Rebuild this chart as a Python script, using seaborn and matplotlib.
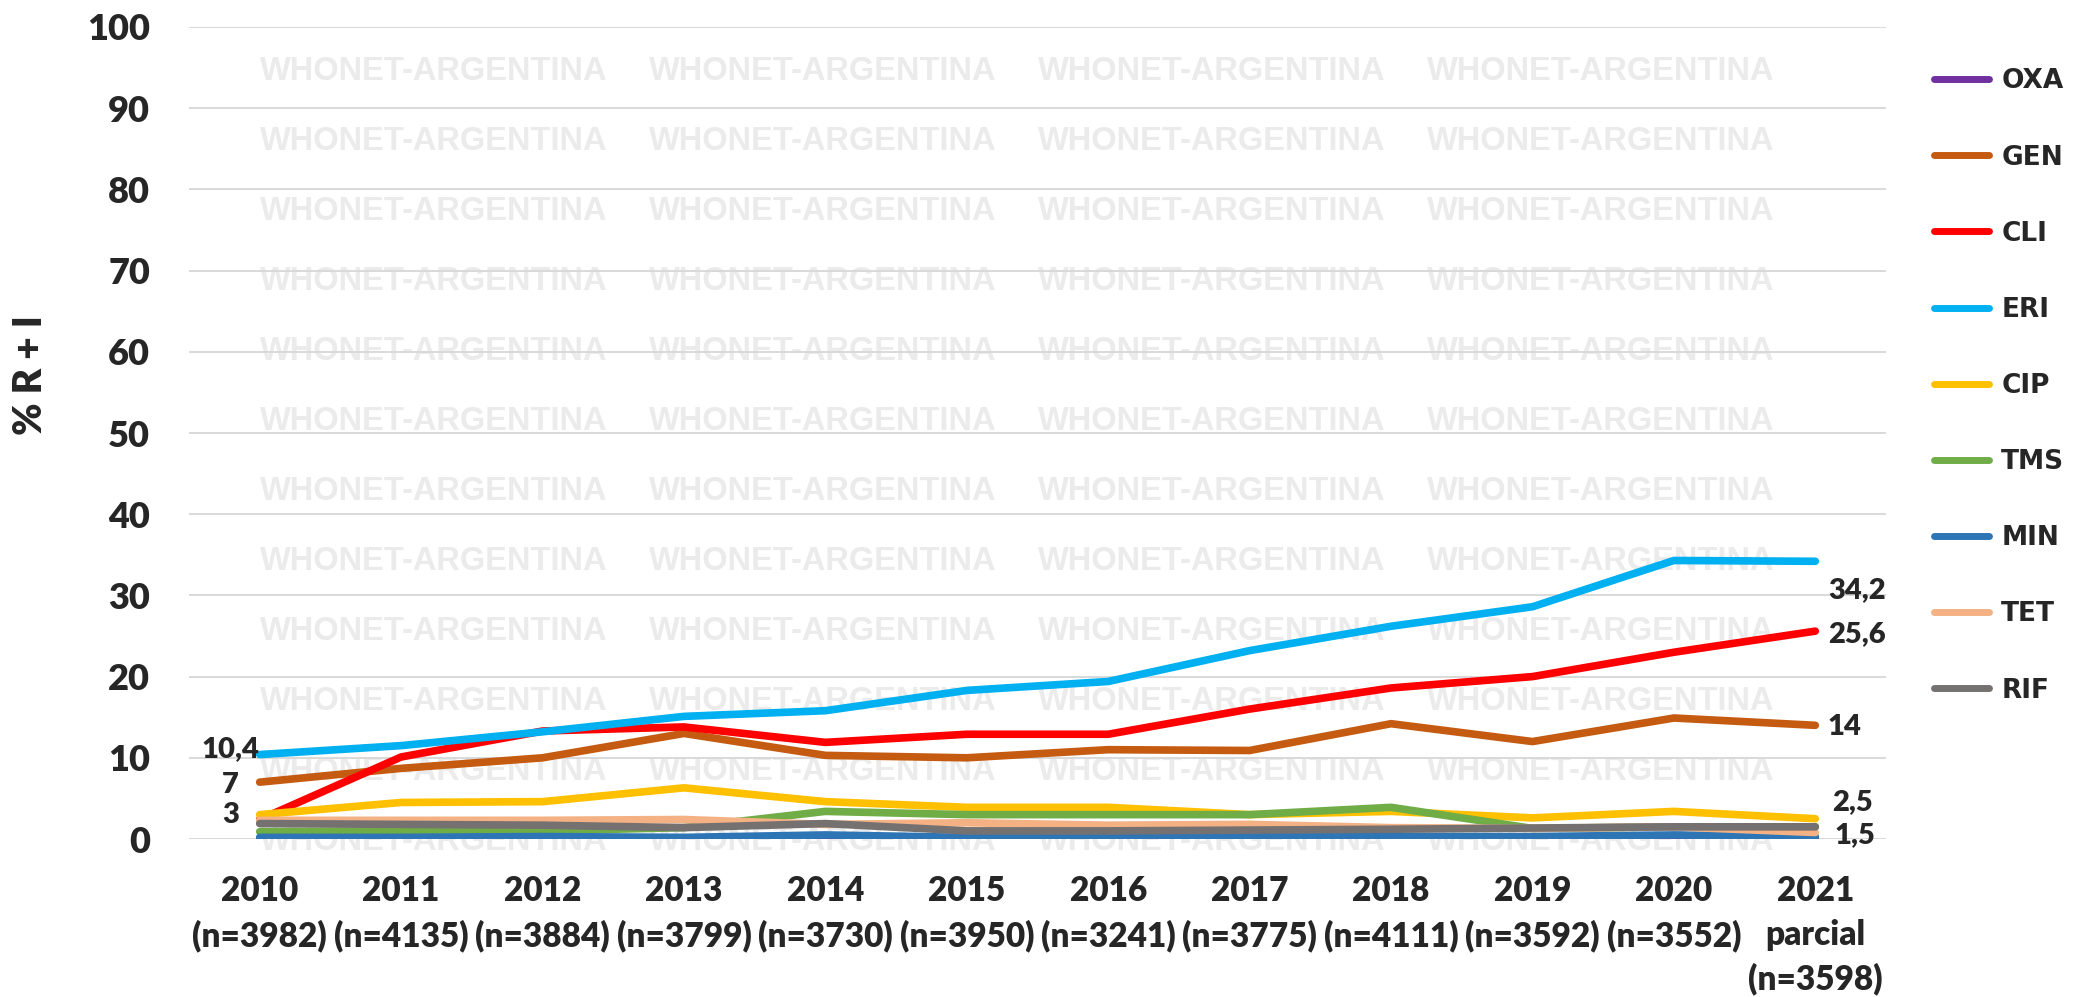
import numpy as np
import pandas as pd
import matplotlib
matplotlib.use("Agg")
import matplotlib.pyplot as plt
from matplotlib.lines import Line2D
import seaborn as sns

# ── Data ──────────────────────────────────────────────────────────────────────
tick_labels = ["2010\n(n=3982)", "2011\n(n=4135)", "2012\n(n=3884)",
               "2013\n(n=3799)", "2014\n(n=3730)", "2015\n(n=3950)",
               "2016\n(n=3241)", "2017\n(n=3775)", "2018\n(n=4111)",
               "2019\n(n=3592)", "2020\n(n=3552)", "2021\nparcial\n(n=3598)"]

antibiotics = ["OXA", "GEN", "CLI", "ERI", "CIP", "TMS", "MIN", "TET", "RIF"]

oxa = [0.0, 0.0, 0.0, 0.1, 0.1, 0.0, 0.0, 0.0, 0.0, 0.0, 0.0, 0.0]
gen = [7.0, 8.7, 10.0, 13.0, 10.3, 10.0, 11.0, 10.9, 14.2, 12.0, 14.9, 14.0]
cli = [2.4, 10.1, 13.3, 13.8, 11.9, 12.9, 12.9, 16.0, 18.6, 20.0, 23.0, 25.6]
eri = [10.4, 11.5, 13.2, 15.1, 15.8, 18.3, 19.4, 23.2, 26.2, 28.6, 34.3, 34.2]
cip = [3.0, 4.5, 4.6, 6.3, 4.6, 3.9, 3.9, 3.0, 3.4, 2.6, 3.4, 2.5]
tms = [0.9, 1.0, 1.0, 1.4, 3.4, 3.0, 3.0, 3.0, 3.9, 1.3, 1.5, 1.5]
min_ = [0.2, 0.2, 0.3, 0.2, 0.5, 0.2, 0.3, 0.3, 0.3, 0.3, 0.5, 0.3]
tet = [2.3, 2.3, 2.3, 2.4, 1.8, 2.0, 1.7, 1.8, 1.4, 1.3, 1.5, 0.8]
rif = [1.9, 1.8, 1.7, 1.4, 1.9, 1.0, 1.0, 1.1, 1.2, 1.35, 1.5, 1.5]

series = {"OXA": oxa, "GEN": gen, "CLI": cli, "ERI": eri, "CIP": cip,
          "TMS": tms, "MIN": min_, "TET": tet, "RIF": rif}

colors = {"OXA": "#7030A0", "GEN": "#C55A11", "CLI": "#FF0000",
          "ERI": "#00B0F0", "CIP": "#FFC000", "TMS": "#70AD47",
          "MIN": "#2E75B6", "TET": "#F4B183", "RIF": "#767171"}

rows = []
for name in antibiotics:
    for i, v in enumerate(series[name]):
        rows.append({"pos": i, "value": v, "antibiotic": name})
df = pd.DataFrame(rows)

# ── Style ─────────────────────────────────────────────────────────────────────
sns.set_theme(style="white")
plt.rcParams["font.family"] = ["Lato", "DejaVu Sans"]
plt.rcParams["font.weight"] = "heavy"

W, H = 2093, 997
fig = plt.figure(figsize=(W / 100, H / 100), dpi=100)
ax = fig.add_axes([189 / W, 1 - 839 / H, (1886 - 189) / W, (839 - 27) / H])
ax.set_facecolor("none")

# watermark grid behind the axes
for cx in [434, 823, 1212, 1601]:
    for cy in np.arange(841, 40, -70):
        fig.text(cx / W, 1 - cy / H, "WHONET-ARGENTINA", ha="center",
                 va="center", color="#ebebeb", fontsize=23.5,
                 fontweight="bold", family=["Liberation Sans", "DejaVu Sans"],
                 zorder=-1)

sns.lineplot(data=df, x="pos", y="value", hue="antibiotic",
             hue_order=antibiotics, palette=colors, linewidth=5.5,
             sort=False, legend=False, ax=ax)
for ln in ax.lines:
    ln.set_solid_capstyle("round")
    ln.set_solid_joinstyle("round")

ax.set_xlim(-0.5, len(tick_labels) - 0.5)
ax.set_ylim(0, 100)
ax.set_yticks(np.arange(0, 101, 10))
ax.set_xticks(range(len(tick_labels)))
ax.set_xticklabels(tick_labels, fontsize=24, fontweight="heavy",
                   linespacing=1.45)
ax.tick_params(axis="y", labelsize=26, length=0, pad=28)
ax.tick_params(axis="x", length=0, pad=26)
for lbl in ax.get_yticklabels():
    lbl.set_fontweight("heavy")
ax.grid(axis="y", color="#d9d9d9", linewidth=1.4)
ax.grid(axis="x", visible=False)
for sp in ax.spines.values():
    sp.set_visible(False)
ax.set_xlabel("")
ax.set_ylabel("")

fig.text(30 / W, 1 - 375 / H, "% R + I", rotation=90, ha="center",
         va="center", fontsize=28, fontweight="heavy")


def fmt(v):
    return f"{v:g}".replace(".", ",")


lab = dict(fontsize=21, fontweight="heavy", textcoords="offset points",
           va="center")
last = len(tick_labels) - 1
ax.annotate(fmt(eri[0]), (0, eri[0]), xytext=(0, 4), ha="right", **lab)
ax.annotate(fmt(gen[0]), (0, gen[0]), xytext=(-15, -2), ha="right", **lab)
ax.annotate(fmt(cip[0]), (0, cip[0]), xytext=(-15, 0), ha="right", **lab)
ax.annotate(fmt(eri[-1]), (last, eri[-1]), xytext=(9, -21), ha="left", **lab)
ax.annotate(fmt(cli[-1]), (last, cli[-1]), xytext=(9, -2), ha="left", **lab)
ax.annotate(fmt(gen[-1]), (last, gen[-1]), xytext=(9, -1), ha="left", **lab)
ax.annotate(fmt(cip[-1]), (last, cip[-1]), xytext=(12, 12), ha="left", **lab)
ax.annotate(fmt(rif[-1]), (last, rif[-1]), xytext=(14, -6), ha="left", **lab)

handles = [Line2D([0], [0], color=colors[a], lw=5, solid_capstyle="round")
           for a in antibiotics]
fig.legend(handles, antibiotics, loc="center left",
           bbox_to_anchor=(1934 / W, 1 - 386 / H), frameon=False,
           prop={"family": "DejaVu Sans", "weight": "bold", "size": 19},
           handlelength=2.1, handletextpad=0.45, labelspacing=1.9,
           borderpad=0, borderaxespad=0)

fig.savefig("out.png", dpi=100)
